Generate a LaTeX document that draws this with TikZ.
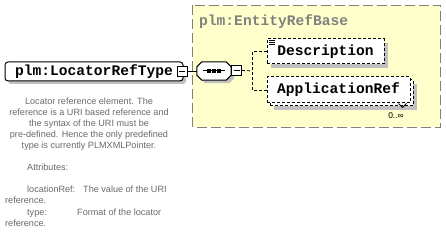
\documentclass[tikz,border=0pt]{standalone}
\usepackage{fontspec}
\setmainfont{Liberation Sans}
\setmonofont{Liberation Mono}
\usetikzlibrary{shadows,calc}
\definecolor{bgyellow}{HTML}{FFFFCC}
\definecolor{framegray}{HTML}{808080}
\definecolor{shadegray}{HTML}{C0C0C0}
\definecolor{doctext}{HTML}{6A6A6A}
\tikzset{
  elemfont/.style={font=\ttfamily\bfseries\fontsize{14.6}{15}\selectfont},
  docline/.style={font=\fontsize{9.1}{9}\selectfont, text=doctext, inner sep=0pt},
  boxshadow/.style={general shadow={fill=shadegray, shadow xshift=4pt, shadow yshift=-4pt}},
  mainbox/.style={elemfont, draw=black, fill=white, rounded corners=3pt, line width=1pt,
    minimum width=178pt, minimum height=19pt, inner sep=0pt,
    general shadow={fill=shadegray, shadow xshift=3pt, shadow yshift=-3pt}},
  elembox/.style={elemfont, draw=black, fill=white, dash pattern=on 3pt off 2pt, line width=1pt,
    inner sep=0pt},
  minusbox/.style={draw=black, fill=white, line width=0.8pt, minimum size=10pt, inner sep=0pt,
    path picture={\draw[line width=0.8pt] ([xshift=2pt]path picture bounding box.west) -- ([xshift=-2pt]path picture bounding box.east);}},
  seqarea/.style={minimum width=34pt, minimum height=18pt, inner sep=0pt},
  conn/.style={draw=black, line width=0.8pt},
  dconn/.style={draw=black, line width=0.8pt, dash pattern=on 3pt off 2pt},
}
\begin{document}
\begin{tikzpicture}[x=1pt,y=-1pt]
\useasboundingbox (0,0) rectangle (446,245);
\fill[white] (0,0) rectangle (446,245);
% group frame
\draw[draw=framegray, fill=bgyellow, line width=1pt, dash pattern=on 10pt off 4pt] (192.5,5.5) rectangle (440.5,127.5);
\node[elemfont, text=framegray, anchor=base west, inner sep=0pt] (title) at (199,26) {plm:EntityRefBase};
% main element
\node[mainbox] (main) at (94,71.5) {plm:LocatorRefType};
\node[minusbox] (mainminus) at (182,71) {};
% sequence compositor
\node[seqarea] (seq) at (214,71) {};
\coordinate (sNW) at (seq.north west);
\coordinate (sNE) at (seq.north east);
\coordinate (sSE) at (seq.south east);
\coordinate (sSW) at (seq.south west);
\fill[shadegray] ($(sNW)+(8,3)$) -- ($(sNE)+(-2,3)$) -- ($(sNE)+(3,8)$) -- ($(sSE)+(3,-2)$)
  -- ($(sSE)+(-2,3)$) -- ($(sSW)+(8,3)$) -- ($(sSW)+(3,-2)$) -- ($(sNW)+(3,8)$) -- cycle;
\draw[line width=1pt, fill=white] ($(sNW)+(5,0)$) -- ($(sNE)+(-5,0)$) -- ($(sNE)+(0,5)$) -- ($(sSE)+(0,-5)$)
  -- ($(sSE)+(-5,0)$) -- ($(sSW)+(5,0)$) -- ($(sSW)+(0,-5)$) -- ($(sNW)+(0,5)$) -- cycle;
\draw[line width=1pt] ([xshift=-11pt]seq.center) -- ([xshift=11pt]seq.center);
\foreach \dx in {-5,0,5} \fill ([xshift=\dx pt]seq.center) +(-1.6,-1.6) rectangle +(1.6,1.6);
\node[minusbox] (seqminus) at (236.5,70.5) {};
\draw[conn] (mainminus.east) -- (seq.west);
% children
\node[elembox, boxshadow, minimum width=117pt, minimum height=25pt] (desc) at (325.5,51.5) {Description};
\draw[line width=0.6pt] ([shift={(2,2)}]desc.north west) -- +(6,0)
  ([shift={(2,4)}]desc.north west) -- +(6,0)
  ([shift={(2,6)}]desc.north west) -- +(6,0);
\node[elembox, boxshadow, minimum width=143pt, minimum height=26pt] (appback) at (341.5,93) {};
\node[elembox, minimum width=143pt, minimum height=26pt] (appref) at (338.5,90) {ApplicationRef};
\draw[line width=0.8pt] ([xshift=-12pt]appref.south east) -- ++(4,4) -- ++(4,-4);
\node[font=\fontsize{8.5}{8.5}\selectfont, inner sep=0pt] (mult) at (396,116) {0..∞};
\coordinate (branch) at (252,71);
\draw[dconn] (seqminus.east) -- (branch);
\draw[dconn] (desc.west) -| (branch) |- (appref.west);
% documentation
\node[docline, anchor=base] (d1) at (89,105) {Locator reference element. The};
\node[docline, anchor=base] (d2) at (89,116) {reference is a URI based reference and};
\node[docline, anchor=base] (d3) at (89,127) {the syntax of the URI must be};
\node[docline, anchor=base] (d4) at (89,138) {pre-defined. Hence the only predefined};
\node[docline, anchor=base] (d5) at (89,149) {type is currently PLMXMLPointer.};
\node[docline, anchor=base west] (d6) at (27,171) {Attributes:};
\node[docline, anchor=base west] (d7) at (27,193) {locationRef:};
\node[docline, anchor=base west] (d7b) at (83,193) {The value of the URI};
\node[docline, anchor=base west] (d8) at (5,204) {reference.};
\node[docline, anchor=base west] (d9) at (27,215) {type:};
\node[docline, anchor=base west] (d9b) at (77,215) {Format of the locator};
\node[docline, anchor=base west] (d10) at (5,226) {reference.};
\end{tikzpicture}
\end{document}
